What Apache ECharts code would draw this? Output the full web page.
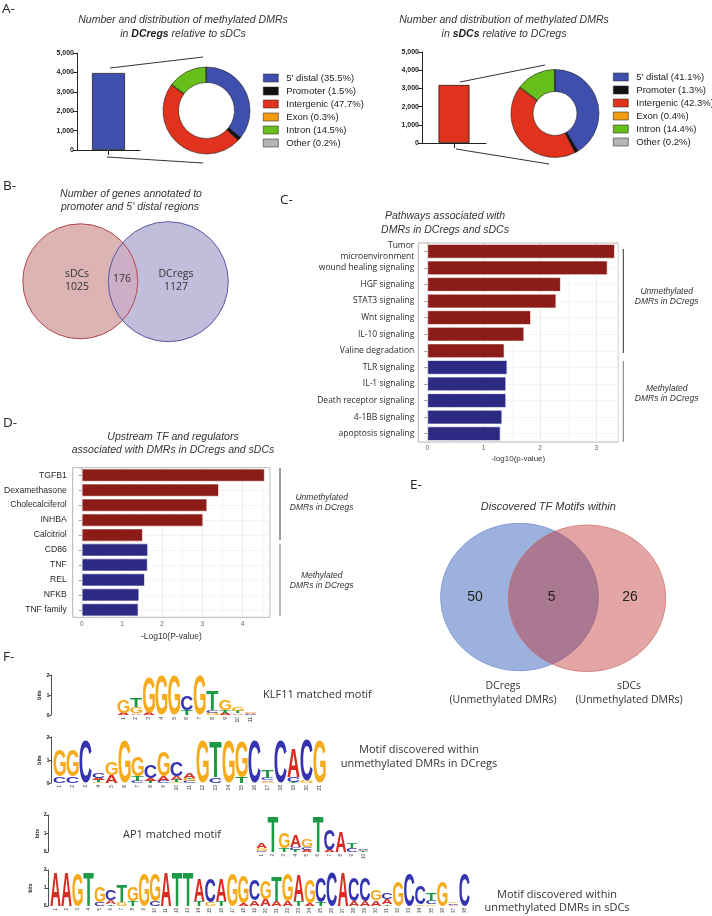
<!DOCTYPE html>
<html><head><meta charset="utf-8">
<script src="https://cdn.jsdelivr.net/npm/echarts@6/dist/echarts.min.js"></script>
<style>html,body{margin:0;padding:0;background:#fff}#c{width:712px;height:916px}</style>
</head><body><div id="c"></div>
<script>
// ---------------- DATA ----------------
const regionCategories = ["5' distal", "Promoter", "Intergenic", "Exon", "Intron", "Other"];
const dcregPercents = [35.5, 1.5, 47.7, 0.3, 14.5, 0.2];
const sdcPercents = [41.1, 1.3, 42.3, 0.4, 14.4, 0.2];
const dcregDmrCount = [3970];
const sdcDmrCount = [3190];
const countTicks = [0, 1000, 2000, 3000, 4000, 5000];

const vennBNames = ["sDCs", "DCregs"];
const vennBCounts = [1025, 176, 1127];           // left only, overlap, right only

const pathwayNames = ["Tumor\nmicroenvironment", "wound healing signaling", "HGF signaling", "STAT3 signaling",
  "Wnt signaling", "IL-10 signaling", "Valine degradation", "TLR signaling", "IL-1 signaling",
  "Death receptor signaling", "4-1BB signaling", "apoptosis signaling"];
const pathwayValues = [3.33, 3.20, 2.37, 2.29, 1.84, 1.72, 1.37, 1.42, 1.40, 1.40, 1.33, 1.30];
const pathwayGroups = ["U", "U", "U", "U", "U", "U", "U", "M", "M", "M", "M", "M"];
const pathwayTicks = [0, 1, 2, 3];

const tfNames = ["TGFB1", "Dexamethasone", "Cholecalciferol", "INHBA", "Calcitriol", "CD86", "TNF", "REL", "NFKB", "TNF family"];
const tfValues = [4.55, 3.41, 3.12, 3.02, 1.52, 1.65, 1.64, 1.57, 1.43, 1.41];
const tfGroups = ["U", "U", "U", "U", "U", "M", "M", "M", "M", "M"];
const tfTicks = [0, 1, 2, 3, 4];

const vennENames = ["DCregs\n(Unmethylated DMRs)", "sDCs\n(Unmethylated DMRs)"];
const vennECounts = [50, 5, 26];

// sequence logos: each position lists letters with their height in bits, bottom to top
const klf11Motif = ["A.1 G.65", "A.08 G.3 T.45", "A.1 G1.75", "G1.95", "G1.95", "T.25 C.75", "G1.95",
  "G.1 C.15 T.95", "A.1 T.15 G.55", "A.08 T.1 G.2", "C.04 A.04 G.04"];
const dcregMotif = ["C.3 G1.15", "C.3 G1.15", "C1.8", "G.05 T.08 A.1 C.25", "A.35 G.55", "G1.8",
  "C.1 T.2 G.85", "T.1 A.1 C.55", "C.1 A.2 G1.1", "G.05 T.1 A.15 C.6", "C.08 G.08 T.05 A.22", "G1.85",
  "C.25 T1.5", "G1.85", "T.25 G1.55", "C1.85", "G.05 A.06 C.1 T.32", "C1.85", "T.05 C.2 A1.25",
  "G.1 C1.75", "G1.85"];
const ap1Motif = ["C.05 G.15 A.3", "T1.9", "T.2 G.85", "T.1 C.15 A.6", "A.1 C.15 G.4", "T1.9",
  "A.1 C1.1", "A1.1", "C.2 T.3", "T.05 A.05 C.05"];
const sdcMotif = ["A1.9", "A1.9", "G1.85", "T1.9", "C.2 G.9", "T.1 A.2 C.55", "G.2 T.95", "T.25 G.8",
  "G1.85", "C.25 G1.5", "A1.9", "T1.9", "T1.9", "T.3 A1.2", "G.2 C1.3", "T.25 A1.25", "G1.85",
  "A.15 G1.5", "A.3 C1.15", "A.4 G1.0", "A.3 T1.35", "A.25 G1.5", "T.3 A1.4", "A.15 G1.3",
  "T.2 C1.35", "C1.9", "A1.9", "A.25 C1.3", "A.25 C1.3", "A.3 G.6", "T.1 A.3 C.35", "G1.4",
  "C1.85", "G.1 C1.0", "G.1 C.2 T.4", "G1.4", "A.08 C.08 G.1", "C1.85"];
const bitsTicks = [0, 1, 2];

// ---------------- STYLE ----------------
const regionColors = ['#3f4fae', '#111111', '#e0321c', '#f39c12', '#66bf1a', '#b5b5b5'];
const groupColors = { U: '#8c1c18', M: '#2d2a83' };
const LETTER_COLORS = { A: '#d92b22', C: '#3434b0', G: '#f6ab1c', T: '#1d9a46' };
const LETTERS = ['A', 'C', 'G', 'T'];
const SANS = 'Liberation Sans';
const MYR = 'Open Sans';
const LOGO_FONT = 'bold 100px "Liberation Sans"';

const metrics = {};
(function () {
  const ctx = document.createElement('canvas').getContext('2d');
  ctx.font = LOGO_FONT; ctx.textAlign = 'center'; ctx.textBaseline = 'middle';
  LETTERS.forEach(ch => {
    const m = ctx.measureText(ch);
    metrics[ch] = { l: m.actualBoundingBoxLeft, r: m.actualBoundingBoxRight, a: m.actualBoundingBoxAscent, d: m.actualBoundingBoxDescent };
  });
})();

function parseMotif(motif) {
  const out = [];
  motif.forEach((s, i) => {
    let y = 0;
    s.trim().split(/\s+/).forEach(tok => {
      const v = parseFloat(tok.slice(1));
      out.push([i, y, y + v, LETTERS.indexOf(tok[0])]);
      y += v;
    });
  });
  return out;
}
function logoRender(params, api) {
  const i = api.value(0), y0 = api.value(1), y1 = api.value(2), li = api.value(3);
  const p0 = api.coord([i, y0]), p1 = api.coord([i, y1]);
  const bw = api.size([1, 0])[0] * 0.94;
  const h = p0[1] - p1[1];
  if (h < 0.25) return null;
  const ch = LETTERS[li], m = metrics[ch];
  const sx = bw / (m.l + m.r), sy = h / (m.a + m.d);
  return {
    type: 'text', x: p0[0] - bw / 2 + m.l * sx, y: p1[1] + m.a * sy, scaleX: sx, scaleY: sy, silent: true,
    style: { text: ch, font: LOGO_FONT, fill: LETTER_COLORS[ch], align: 'center', verticalAlign: 'middle' }
  };
}
function positions(motif) { return motif.map((_, i) => String(i + 1)); }

function txt(x, y, text, size, opts) {
  opts = opts || {};
  return {
    type: 'text', x: x, y: y, silent: true, style: {
      text: text, fontSize: size, fontFamily: opts.family || SANS, fontStyle: opts.italic ? 'italic' : 'normal',
      fontWeight: opts.bold ? 'bold' : 'normal', fill: opts.color || '#333', align: opts.align || 'center',
      verticalAlign: 'middle', lineHeight: opts.lineHeight || size * 1.2
    }
  };
}
function line(x1, y1, x2, y2, color, w) {
  return { type: 'line', silent: true, shape: { x1, y1, x2, y2 }, style: { stroke: color || '#333', lineWidth: w || 1 } };
}
function lensPoints(c1, r1, c2, r2, n) {
  const dx = c2[0] - c1[0], dy = c2[1] - c1[1], d = Math.hypot(dx, dy);
  const a = (r1 * r1 - r2 * r2 + d * d) / (2 * d), a2 = d - a;
  const base = Math.atan2(dy, dx), t1 = Math.acos(a / r1), t2 = Math.acos(a2 / r2);
  const pts = [];
  for (let k = 0; k <= n; k++) { const g = base - t1 + 2 * t1 * k / n; pts.push([c1[0] + r1 * Math.cos(g), c1[1] + r1 * Math.sin(g)]); }
  for (let k = 0; k <= n; k++) { const g = base + Math.PI - t2 + 2 * t2 * k / n; pts.push([c2[0] + r2 * Math.cos(g), c2[1] + r2 * Math.sin(g)]); }
  return pts;
}

// ---------------- LAYOUT ----------------
const B1 = [80.3, 281.3], BR1 = 57.5, B2 = [168.3, 281.7], BR2 = 60;
const E1 = [519.5, 597], E1R = [78.8, 73.7], E2 = [587, 598.3], E2R = [78.7, 73.3];

const chart = echarts.init(document.getElementById('c'), null, { renderer: 'canvas' });

const countAxisY = (grid) => ({
  gridIndex: grid, type: 'value', min: countTicks[0], max: countTicks[countTicks.length - 1], interval: countTicks[1] - countTicks[0],
  axisLine: { show: true, lineStyle: { color: '#222', width: 1 } }, axisTick: { show: true, length: 4, lineStyle: { color: '#222' } },
  axisLabel: { fontSize: 7, fontWeight: 'bold', color: '#222', margin: 3, fontFamily: SANS }, splitLine: { show: false }
});
const countAxisX = (grid, name) => ({
  gridIndex: grid, type: 'category', data: [name], axisLine: { lineStyle: { color: '#222', width: 1 } },
  axisTick: { show: true, alignWithLabel: true, length: 5, lineStyle: { color: '#222' } }, axisLabel: { show: false }
});
const hidden = (grid, type, extra) => Object.assign({
  gridIndex: grid, type: type, axisLine: { show: false }, axisTick: { show: false }, axisLabel: { show: false }, splitLine: { show: false }
}, extra || {});
const tickAxisX = (grid, ticks, max) => ({
  gridIndex: grid, type: 'value', min: ticks[0], max: max, interval: ticks[1] - ticks[0],
  axisLine: { show: false }, axisTick: { show: true, length: 2, lineStyle: { color: '#aaa' } },
  axisLabel: { fontSize: 6.5, color: '#666', margin: 3, showMaxLabel: false, fontFamily: SANS },
  splitLine: { show: true, lineStyle: { color: '#e6e6e6', width: 0.8 } },
  minorTick: { show: false, splitNumber: 2 }, minorSplitLine: { show: true, lineStyle: { color: '#f2f2f2', width: 0.6 } }
});
const bandAxisY = (grid, n) => ({
  gridIndex: grid, type: 'value', min: 0, max: n, interval: 1, inverse: true,
  axisLine: { show: false }, axisTick: { show: false }, axisLabel: { show: false }, splitLine: { show: false },
  minorTick: { show: false, splitNumber: 2 }, minorSplitLine: { show: true, lineStyle: { color: '#ededed', width: 0.6 } }
});
const catAxisY = (grid, names, font, size, margin) => ({
  gridIndex: grid, type: 'category', inverse: true, data: names, axisLine: { show: false },
  axisTick: { show: true, alignWithLabel: true, length: 3, lineStyle: { color: '#999' } },
  axisLabel: { fontSize: size, color: '#2a2a2a', fontFamily: font, margin: margin, lineHeight: 11.5, interval: 0, hideOverlap: false }, splitLine: { show: false }
});
const logoAxisX = (grid, motif, size) => ({
  gridIndex: grid, type: 'category', data: positions(motif), axisLine: { show: false }, axisTick: { show: false },
  axisLabel: { rotate: 90, fontSize: size, color: '#333', margin: 2, fontFamily: SANS, interval: 0 }
});
const logoAxisY = (grid, offset, size) => ({
  gridIndex: grid, type: 'value', min: bitsTicks[0], max: bitsTicks[2], interval: 1, offset: offset,
  axisLine: { show: true, lineStyle: { color: '#222', width: 0.8 } }, axisTick: { show: true, length: 2, lineStyle: { color: '#222', width: 0.8 } },
  axisLabel: { fontSize: size, fontWeight: 'bold', color: '#222', margin: 1.5, fontFamily: SANS }, splitLine: { show: false },
  name: 'bits', nameLocation: 'middle', nameGap: 7, nameRotate: 90, nameTextStyle: { fontSize: size, color: '#222', fontWeight: 'bold', fontFamily: SANS }
});
const logoSeries = (idx, motif) => ({
  type: 'custom', xAxisIndex: idx, yAxisIndex: idx, data: parseMotif(motif), renderItem: logoRender, silent: true,
  encode: { x: 0, y: [1, 2] }
});

const legendBase = {
  orient: 'vertical', itemWidth: 15, itemHeight: 8, itemGap: 1, padding: 0, icon: 'rect', selectedMode: false,
  itemStyle: { borderColor: '#333', borderWidth: 0.6 },
  textStyle: { fontSize: 9.5, fontFamily: SANS, color: '#222', lineHeight: 12, padding: [0, 0, 0, 3] }
};
const dcregNames = regionCategories.map((c, i) => c + ' (' + dcregPercents[i] + '%)');
const sdcNames = regionCategories.map((c, i) => c + ' (' + sdcPercents[i] + '%)');

const titleRich = (boldWord, rest) => ({
  type: 'text', x: 0, y: 0, silent: true, style: {
    text: '{i|in }{b|' + boldWord + '}{i|' + rest + '}', align: 'center', verticalAlign: 'middle',
    rich: {
      i: { fontSize: 10.5, fontFamily: SANS, fontStyle: 'italic', fill: '#333' },
      b: { fontSize: 10.5, fontFamily: SANS, fontStyle: 'italic', fontWeight: 'bold', fill: '#1a1a1a' }
    }
  }
});

const graphics = [];
// panel letters
[['A-', 2, 9], ['B-', 3, 186], ['C-', 280, 200], ['D-', 3, 423], ['E-', 410, 485], ['F-', 3, 657]].forEach(p =>
  graphics.push(txt(p[1], p[2], p[0], 13.5, { family: MYR, align: 'left', color: '#222' })));
// panel A titles
graphics.push(txt(183, 20, 'Number and distribution of methylated DMRs', 10.5, { italic: true }));
graphics.push(Object.assign(titleRich('DCregs', ' relative to sDCs'), { x: 183, y: 34 }));
graphics.push(txt(504, 20, 'Number and distribution of methylated DMRs', 10.5, { italic: true }));
graphics.push(Object.assign(titleRich('sDCs', ' relative to DCregs'), { x: 504, y: 34 }));
// callout lines
graphics.push(line(110, 68, 203, 57), line(107, 157, 203, 163), line(460, 82, 545, 65), line(456, 149, 549, 164));
// panel B
graphics.push(txt(131, 194, 'Number of genes annotated to', 10.5, { italic: true }));
graphics.push(txt(130, 207, "promoter and 5' distal regions", 10.5, { italic: true }));
graphics.push({ type: 'circle', silent: true, shape: { cx: B1[0], cy: B1[1], r: BR1 }, style: { fill: '#dcb4b4' } });
graphics.push({ type: 'circle', silent: true, shape: { cx: B2[0], cy: B2[1], r: BR2 }, style: { fill: '#c1bedc' } });
graphics.push({ type: 'polygon', silent: true, shape: { points: lensPoints(B1, BR1, B2, BR2, 60) }, style: { fill: '#ccafc6' } });
graphics.push({ type: 'circle', silent: true, shape: { cx: B1[0], cy: B1[1], r: BR1 }, style: { fill: 'none', stroke: '#b4464b', lineWidth: 1 } });
graphics.push({ type: 'circle', silent: true, shape: { cx: B2[0], cy: B2[1], r: BR2 }, style: { fill: 'none', stroke: '#5a57a5', lineWidth: 1 } });
graphics.push(txt(77, 281, vennBNames[0] + '\n' + vennBCounts[0], 10.5, { family: MYR, lineHeight: 13 }));
graphics.push(txt(122, 279, String(vennBCounts[1]), 10.5, { family: MYR }));
graphics.push(txt(176, 281, vennBNames[1] + '\n' + vennBCounts[2], 10.5, { family: MYR, lineHeight: 13 }));
// panel C titles & brackets
graphics.push(txt(445, 216, 'Pathways associated with', 10.5, { italic: true }));
graphics.push(txt(445, 230, 'DMRs in DCregs and sDCs', 10.5, { italic: true }));
graphics.push(line(623.3, 249, 623.3, 353, '#333'), line(623.3, 361, 623.3, 442, '#777'));
graphics.push(txt(666.7, 296.5, 'Unmethylated\nDMRs in DCregs', 8.5, { italic: true, lineHeight: 10 }));
graphics.push(txt(666.7, 394, 'Methylated\nDMRs in DCregs', 8.5, { italic: true, lineHeight: 10 }));
// panel D titles & brackets
graphics.push(txt(173, 437, 'Upstream TF and regulators', 10.5, { italic: true }));
graphics.push(txt(173, 450, 'associated with DMRs in DCregs and sDCs', 10.5, { italic: true }));
graphics.push(line(280, 468, 280, 540, '#333'), line(280, 544, 280, 616, '#777'));
graphics.push(txt(321.7, 502.5, 'Unmethylated\nDMRs in DCregs', 8.5, { italic: true, lineHeight: 10.4 }));
graphics.push(txt(321.7, 580.7, 'Methylated\nDMRs in DCregs', 8.5, { italic: true, lineHeight: 10 }));
// panel E
graphics.push(txt(548.3, 507, 'Discovered TF Motifs within', 11, { italic: true }));
graphics.push({ type: 'circle', silent: true, x: E1[0], y: E1[1], scaleX: E1R[0] / E1R[1], shape: { cx: 0, cy: 0, r: E1R[1] }, style: { fill: '#9db1df', stroke: '#7f98d3', lineWidth: 0.9 } });
graphics.push({ type: 'circle', silent: true, x: E2[0], y: E2[1], scaleX: E2R[0] / E2R[1], shape: { cx: 0, cy: 0, r: E2R[1] }, style: { fill: 'rgba(190,40,40,0.42)', stroke: 'rgba(200,100,100,0.7)', lineWidth: 0.9 } });
graphics.push(txt(475, 597, String(vennECounts[0]), 14, { color: '#222' }));
graphics.push(txt(551.7, 597, String(vennECounts[1]), 14, { color: '#222' }));
graphics.push(txt(630, 597, String(vennECounts[2]), 14, { color: '#222' }));
graphics.push(txt(503, 693, vennENames[0], 10.5, { family: MYR, lineHeight: 14 }));
graphics.push(txt(629, 693, vennENames[1], 10.5, { family: MYR, lineHeight: 14 }));
// panel F texts
graphics.push(txt(263, 695, 'KLF11 matched motif', 11, { family: MYR, align: 'left' }));
graphics.push(txt(419, 757, 'Motif discovered within\nunmethylated DMRs in DCregs', 11, { family: MYR, lineHeight: 13.5 }));
graphics.push(txt(172, 835, 'AP1 matched motif', 11, { family: MYR }));
graphics.push(txt(557, 901.5, 'Motif discovered within\nunmethylated DMRs in sDCs', 11, { family: MYR, lineHeight: 13.5 }));

const option = {
  animation: false,
  backgroundColor: '#fff',
  grid: [
    { left: 77, top: 53, width: 63, height: 97 },
    { left: 422, top: 52, width: 64, height: 91 },
    { left: 418.3, top: 243, width: 200, height: 199, show: true, borderColor: '#b5b5b5', borderWidth: 1, backgroundColor: 'transparent' },
    { left: 427.3, top: 243, width: 191, height: 199 },
    { left: 72.7, top: 467.7, width: 197.3, height: 149.6, show: true, borderColor: '#b5b5b5', borderWidth: 1, backgroundColor: 'transparent' },
    { left: 81.7, top: 467.7, width: 188.3, height: 149.6 },
    { left: 117, top: 675, width: 140, height: 40 },
    { left: 53, top: 737, width: 273, height: 46 },
    { left: 256, top: 815, width: 113, height: 37 },
    { left: 50, top: 870, width: 420, height: 37 }
  ],
  xAxis: [
    countAxisX(0, 'DCregs'),
    countAxisX(1, 'sDCs'),
    hidden(2, 'value', { min: -0.16, max: 3.39, name: '-log10(p-value)', nameLocation: 'middle', nameGap: 13, nameTextStyle: { fontSize: 8, color: '#333', fontFamily: SANS } }),
    tickAxisX(3, pathwayTicks, 3.39),
    hidden(4, 'value', { min: -0.224, max: 4.68, name: '-Log10(P-value)', nameLocation: 'middle', nameGap: 15, nameTextStyle: { fontSize: 8.5, color: '#333', fontFamily: SANS } }),
    tickAxisX(5, tfTicks, 4.68),
    logoAxisX(6, klf11Motif, 5),
    logoAxisX(7, dcregMotif, 5),
    logoAxisX(8, ap1Motif, 4.5),
    logoAxisX(9, sdcMotif, 4.5)
  ],
  yAxis: [
    countAxisY(0),
    countAxisY(1),
    catAxisY(2, pathwayNames, MYR, 8.5, 4),
    bandAxisY(3, pathwayNames.length),
    catAxisY(4, tfNames, SANS, 8.6, 6),
    bandAxisY(5, tfNames.length),
    logoAxisY(6, 66, 5.5),
    logoAxisY(7, 2, 5.5),
    logoAxisY(8, 208, 5),
    logoAxisY(9, 2, 5)
  ],
  legend: [
    Object.assign({}, legendBase, { data: dcregNames, left: 263, top: 72 }),
    Object.assign({}, legendBase, { data: sdcNames, left: 613, top: 71 })
  ],
  series: [
    { type: 'bar', xAxisIndex: 0, yAxisIndex: 0, data: dcregDmrCount, barWidth: 33, silent: true,
      itemStyle: { color: regionColors[0], borderColor: '#222', borderWidth: 0.8 } },
    { type: 'bar', xAxisIndex: 1, yAxisIndex: 1, data: sdcDmrCount, barWidth: 31, silent: true,
      itemStyle: { color: regionColors[2], borderColor: '#222', borderWidth: 0.8 } },
    { type: 'pie', center: [206.5, 110.5], radius: [28, 43.5], startAngle: 90, clockwise: true, silent: true,
      label: { show: false }, labelLine: { show: false }, color: regionColors,
      itemStyle: { borderColor: '#222', borderWidth: 0.6 },
      data: dcregNames.map((n, i) => ({ name: n, value: dcregPercents[i] })) },
    { type: 'pie', center: [555, 113.5], radius: [22, 44], startAngle: 90, clockwise: true, silent: true,
      label: { show: false }, labelLine: { show: false }, color: regionColors,
      itemStyle: { borderColor: '#222', borderWidth: 0.6 },
      data: sdcNames.map((n, i) => ({ name: n, value: sdcPercents[i] })) },
    { type: 'bar', xAxisIndex: 2, yAxisIndex: 2, barCategoryGap: '12%', silent: true,
      itemStyle: { borderColor: 'rgba(255,255,255,0.8)', borderWidth: 0.8 },
      data: pathwayValues.map((v, i) => ({ value: v, itemStyle: { color: groupColors[pathwayGroups[i]] } })) },
    { type: 'bar', xAxisIndex: 4, yAxisIndex: 4, barCategoryGap: '13%', silent: true,
      itemStyle: { borderColor: 'rgba(255,255,255,0.8)', borderWidth: 0.8 },
      data: tfValues.map((v, i) => ({ value: v, itemStyle: { color: groupColors[tfGroups[i]] } })) },
    logoSeries(6, klf11Motif),
    logoSeries(7, dcregMotif),
    logoSeries(8, ap1Motif),
    logoSeries(9, sdcMotif)
  ],
  graphic: { elements: graphics }
};
chart.setOption(option);
</script>
</body></html>
